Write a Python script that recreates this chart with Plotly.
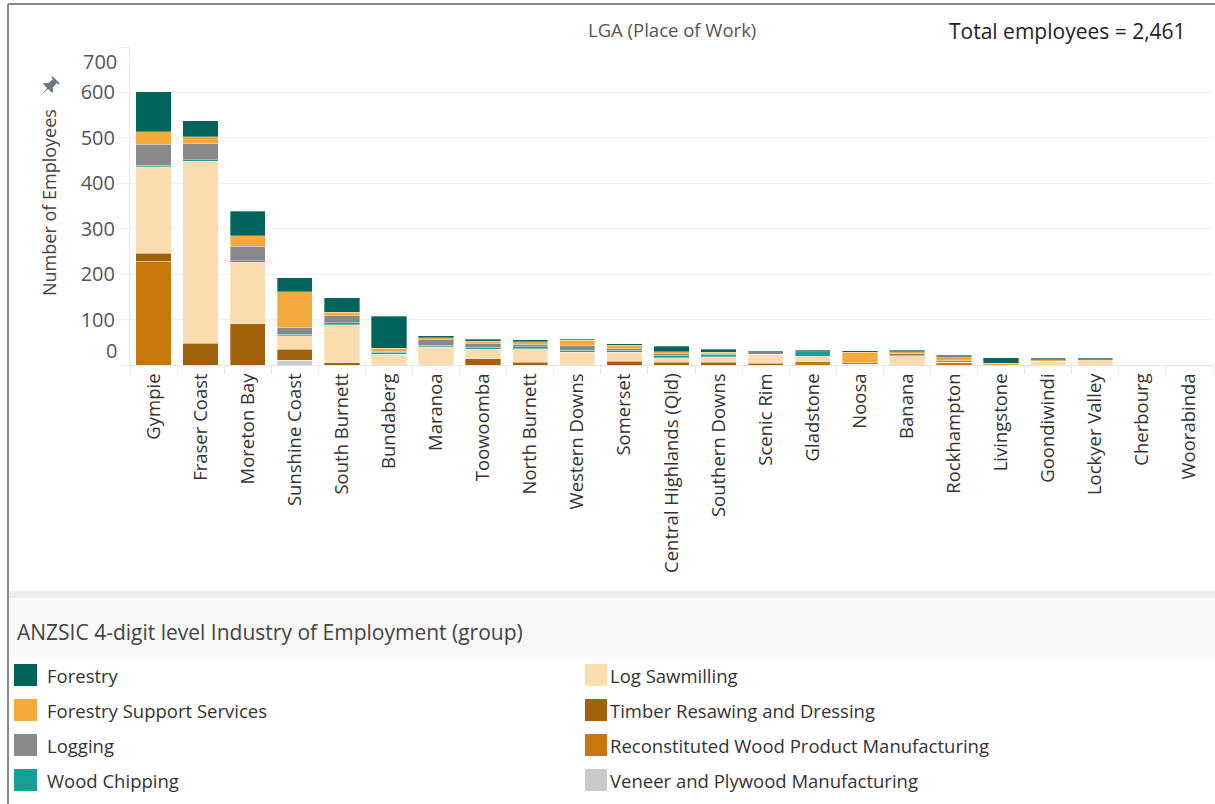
import math
import plotly.graph_objects as go

# ---- data -------------------------------------------------------------
lgas = [
    "Gympie", "Fraser Coast", "Moreton Bay", "Sunshine Coast", "South Burnett",
    "Bundaberg", "Maranoa", "Toowoomba", "North Burnett", "Western Downs",
    "Somerset", "Central Highlands (Qld)", "Southern Downs", "Scenic Rim",
    "Gladstone", "Noosa", "Banana", "Rockhampton", "Livingstone",
    "Goondiwindi", "Lockyer Valley", "Cherbourg", "Woorabinda",
]

veneer_plywood = [0, 0, 0, 10, 0, 0, 0, 0, 0, 0, 0, 0, 0, 0, 0, 0, 0, 0, 0, 0, 0, 0, 0]
reconstituted = [228, 0, 0, 0, 0, 0, 0, 0, 0, 0, 0, 0, 0, 0, 8, 0, 0, 6, 0, 0, 0, 0, 0]
timber_resawing = [18, 48, 91, 25, 5, 0, 0, 14, 6, 0, 8, 6, 6, 4, 0, 0, 0, 0, 0, 0, 0, 0, 0]
log_sawmilling = [190, 400, 135, 29, 84, 24, 40, 21, 30, 28, 20, 10, 12, 20, 11, 2, 20, 0, 0, 8, 12, 0, 0]
wood_chipping = [4, 4, 4, 4, 4, 4, 4, 4, 4, 5, 5, 5, 6, 0, 10, 0, 0, 0, 0, 0, 0, 0, 0]
logging = [46, 35, 31, 15, 15, 2, 12, 9, 6, 11, 3, 4, 2, 5, 0, 3, 5, 3, 0, 0, 0, 0, 0]
forestry_support = [28, 15, 24, 78, 8, 7, 4, 4, 5, 10, 8, 4, 2, 0, 0, 23, 4, 9, 4, 4, 0, 0, 0]
forestry = [88, 36, 54, 31, 32, 70, 4, 5, 5, 3, 3, 12, 7, 2, 3, 3, 4, 4, 12, 3, 3, 0, 0]

y_ticks = [0, 100, 200, 300, 400, 500, 600, 700]
total_label = "Total employees = 2,461"

# series in stacking order (bottom first)
series = [
    ("Veneer and Plywood Manufacturing", veneer_plywood, "#c9c9c9"),
    ("Reconstituted Wood Product Manufacturing", reconstituted, "#c7780c"),
    ("Timber Resawing and Dressing", timber_resawing, "#a1620a"),
    ("Log Sawmilling", log_sawmilling, "#fbdcae"),
    ("Wood Chipping", wood_chipping, "#17a096"),
    ("Logging", logging, "#898989"),
    ("Forestry Support Services", forestry_support, "#f4a93b"),
    ("Forestry", forestry, "#00645a"),
]
colors = {name: col for name, _, col in series}

# legend layout: two columns, read top-down
legend_cols = [
    ["Forestry", "Forestry Support Services", "Logging", "Wood Chipping"],
    ["Log Sawmilling", "Timber Resawing and Dressing",
     "Reconstituted Wood Product Manufacturing", "Veneer and Plywood Manufacturing"],
]

# ---- page geometry (pixels) -------------------------------------------
W, H = 1215, 804
L, R, T, B = 130, 1213, 47, 365
FONT = "Open Sans"


def px_x(x):
    return (x - L) / (R - L)


def px_y(y):
    return (B - y) / (B - T)


fig = go.Figure()
for name, vals, col in series:
    fig.add_trace(go.Bar(
        x=lgas, y=vals, name=name,
        marker=dict(color=col, line=dict(color="rgba(255,255,255,0.55)", width=0.6)),
        showlegend=False,
        hovertemplate="%{x}<br>" + name + ": %{y}<extra></extra>",
    ))

shapes = []
annotations = []

# outer frame
shapes.append(dict(type="line", xref="paper", yref="paper",
                   x0=px_x(8), x1=px_x(W), y0=px_y(4), y1=px_y(4),
                   line=dict(color="#8a8a8a", width=2)))
shapes.append(dict(type="line", xref="paper", yref="paper",
                   x0=px_x(8), x1=px_x(8), y0=px_y(4), y1=px_y(H),
                   line=dict(color="#8a8a8a", width=2)))

# divider and legend header band
shapes.append(dict(type="rect", xref="paper", yref="paper",
                   x0=px_x(9), x1=px_x(W), y0=px_y(591), y1=px_y(598),
                   fillcolor="#ededed", line=dict(width=0), layer="below"))
shapes.append(dict(type="rect", xref="paper", yref="paper",
                   x0=px_x(9), x1=px_x(W), y0=px_y(600), y1=px_y(657),
                   fillcolor="#f8f8f8", line=dict(width=0), layer="below"))
annotations.append(dict(xref="paper", yref="paper", x=px_x(15), y=px_y(632),
                        xanchor="left", yanchor="middle", showarrow=False,
                        text="ANZSIC 4-digit level Industry of Employment (group)",
                        font=dict(family=FONT, size=21, color="#444444")))

# legend entries
col_swatch_x = [(14, 37), (585, 607)]
col_text_x = [45, 608]
row_y = [675, 710, 745, 780]
for ci, names in enumerate(legend_cols):
    sx0, sx1 = col_swatch_x[ci]
    for ri, name in enumerate(names):
        cy = row_y[ri]
        shapes.append(dict(type="rect", xref="paper", yref="paper",
                           x0=px_x(sx0), x1=px_x(sx1),
                           y0=px_y(cy + 11), y1=px_y(cy - 11),
                           fillcolor=colors[name], line=dict(width=0)))
        annotations.append(dict(xref="paper", yref="paper",
                                x=px_x(col_text_x[ci]), y=px_y(cy),
                                xanchor="left", yanchor="middle", showarrow=False,
                                text=name,
                                font=dict(family=FONT, size=18.5, color="#333333")))

# header texts
annotations.append(dict(xref="paper", yref="paper", x=px_x(672), y=px_y(30),
                        xanchor="center", yanchor="middle", showarrow=False,
                        text="LGA (Place of Work)",
                        font=dict(family=FONT, size=18.5, color="#555555")))
annotations.append(dict(xref="paper", yref="paper", x=px_x(1188), y=px_y(31),
                        xanchor="right", yanchor="middle", showarrow=False,
                        text=total_label,
                        font=dict(family=FONT, size=21, color="#222222")))

# axis title
annotations.append(dict(xref="paper", yref="paper", x=px_x(49), y=px_y(203),
                        xanchor="center", yanchor="middle", showarrow=False,
                        textangle=-90, text="Number of Employees",
                        font=dict(family=FONT, size=18, color="#444444")))

# end labels of the value axis sit inside the plot band
for v, shift in ((y_ticks[0], 15), (y_ticks[-1], -14)):
    annotations.append(dict(xref="paper", yref="y", x=px_x(119), y=v, yshift=shift,
                            xanchor="right", yanchor="middle", showarrow=False,
                            text=str(v),
                            font=dict(family=FONT, size=20, color="#555555")))

# pin icon beside the axis title
pin = [(-4.5, -10), (4.5, -10), (4.5, -8.5), (2.5, -8.5), (2.5, -3.5),
       (5.5, -0.5), (5.5, 0.5), (0.6, 0.5), (0, 8), (-0.6, 0.5),
       (-5.5, 0.5), (-5.5, -0.5), (-2.5, -3.5), (-2.5, -8.5), (-4.5, -8.5)]
ang = math.radians(45)
scale = 1.15
cx, cy = 48, 88
pts = []
for px, py in pin:
    rx = scale * (px * math.cos(ang) - py * math.sin(ang))
    ry = scale * (px * math.sin(ang) + py * math.cos(ang))
    pts.append((px_x(cx + rx), px_y(cy + ry)))
path = "M" + " L".join(f"{a:.5f},{b:.5f}" for a, b in pts) + " Z"
shapes.append(dict(type="path", xref="paper", yref="paper", path=path,
                   fillcolor="#6c7684", line=dict(width=0)))

fig.update_layout(
    barmode="stack",
    bargap=0.25,
    width=W, height=H,
    margin=dict(l=L, r=W - R, t=T, b=H - B, pad=0),
    paper_bgcolor="white",
    plot_bgcolor="white",
    font=dict(family=FONT, color="#333333"),
    shapes=shapes,
    annotations=annotations,
    showlegend=False,
    xaxis=dict(
        type="category",
        tickangle=-90,
        tickfont=dict(family=FONT, size=18.5, color="#333333"),
        ticks="outside", tickson="boundaries", ticklen=8, tickcolor="#e8e8e8",
        showline=True, linecolor="#e3e3e3", linewidth=1,
        showgrid=False,
    ),
    yaxis=dict(
        range=[0, 700],
        tickvals=y_ticks,
        ticktext=[""] + [str(v) for v in y_ticks[1:-1]] + [""],
        tickfont=dict(family=FONT, size=20, color="#555555"),
        ticks="outside", ticklen=10, tickcolor="#f0f0f0",
        showgrid=True, gridcolor="#f0f0f0", gridwidth=1,
        showline=True, linecolor="#ebebeb", linewidth=1,
        zeroline=False,
    ),
)

fig.write_html("out.html")
